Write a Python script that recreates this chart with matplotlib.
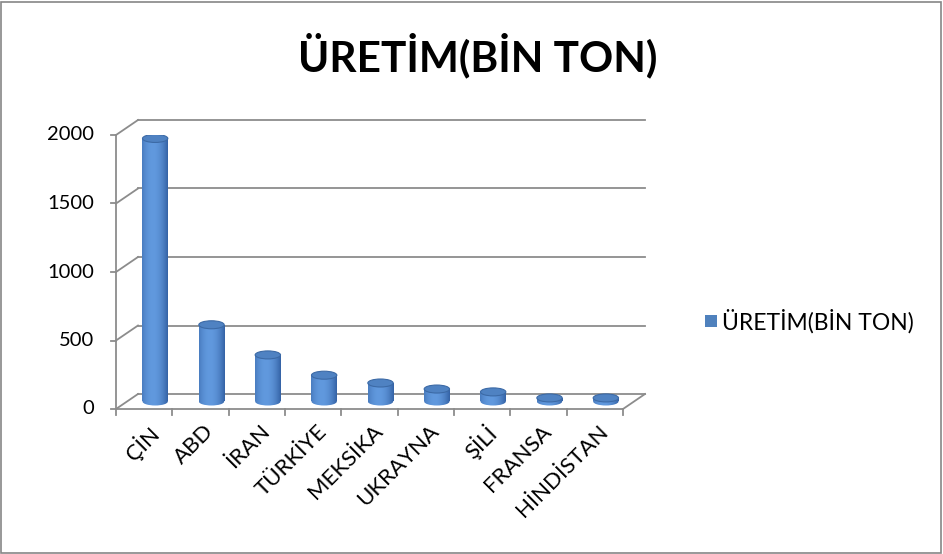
import numpy as np
import matplotlib
matplotlib.use("Agg")
import matplotlib.pyplot as plt
from matplotlib.patches import Rectangle, Ellipse
from matplotlib.lines import Line2D

# data
countries = ["ÇİN", "ABD", "İRAN", "TÜRKİYE", "MEKSİKA", "UKRAYNA", "ŞİLİ", "FRANSA", "HİNDİSTAN"]
production = [1920, 560, 340, 192, 135, 91, 70, 26, 26]
yticks = [0, 500, 1000, 1500, 2000]
title = "ÜRETİM(BİN TON)"
series_name = "ÜRETİM(BİN TON)"

plt.rcParams["font.family"] = ["Lato", "DejaVu Sans"]

W, H = 943, 554
fig = plt.figure(figsize=(W / 100, H / 100), dpi=100)

# front plane of the pseudo-3D box, in pixels
x0, x1 = 116, 623
ytop, ybot = 135, 409
ax = fig.add_axes([x0 / W, (H - ybot) / H, (x1 - x0) / W, (ybot - ytop) / H])
n = len(countries)
ax.axis("off")

# depth offset (pixels -> data units)
px_x = (x1 - x0) / n
px_y = (ybot - ytop) / 2000
DX = 22 / px_x
DY = 15 / px_y
grid_c = "#8c8c8c"


def line(xs, ys):
    ax.add_line(Line2D(xs, ys, color=grid_c, lw=1.3, clip_on=False))


# back wall grid + left diagonals
for v in yticks:
    line([DX, n + DX], [v + DY, v + DY])
    line([0, DX], [v, v + DY])
    line([-5 / px_x, 0], [v, v])  # tick
# front axis and floor
line([0, 0], [0, 2000])
line([0, n], [0, 0])
line([n, n + DX], [0, DY])
for i in range(n + 1):
    line([i, i], [0, -6 / px_y])

# cylinders with horizontal shading
bw = 0.45
eh = 8 / px_y
grad = np.linspace(0, 1, 64)
shade = 1 - (np.abs(grad - 0.42) * 1.7) ** 2
c_dark = np.array([0.20, 0.38, 0.64])
c_light = np.array([0.38, 0.60, 0.87])
img = c_dark[None, :] + shade[:, None] * (c_light - c_dark)[None, :]
img = img[None, :, :]

for i, v in enumerate(production):
    cx = i + 0.5 + DX / 2
    base = DY / 2
    left = cx - bw / 2
    body = Rectangle((left, base), bw, v, transform=ax.transData)
    bottom = Ellipse((cx, base), bw, eh, transform=ax.transData)
    for clip in (body, bottom):
        im = ax.imshow(img, extent=(left, left + bw, base - eh, base + v), aspect="auto",
                       interpolation="bilinear", zorder=3)
        im.set_clip_path(clip)
    ax.add_patch(Ellipse((cx, base + v), bw, eh, facecolor="#4f82c2",
                         edgecolor="#3c6aa6", lw=0.8, zorder=4))

ax.set_xlim(0, n)
ax.set_ylim(0, 2000)

# tick labels
for v in yticks:
    ax.text(-22 / px_x, v, str(v), ha="right", va="center", fontsize=14.5, clip_on=False)
for i, name in enumerate(countries):
    ax.text(i + 0.5 + 3 / px_x, -12 / px_y, name, rotation=45, rotation_mode="anchor",
            ha="right", va="top", fontsize=16, clip_on=False)

fig.text(478 / W, 1 - 55 / H, title, ha="center", va="center", fontsize=30.5, fontweight="bold")

# legend
fig.patches.append(Rectangle((705 / W, 1 - 327 / H), 12 / W, 12 / H, transform=fig.transFigure,
                             facecolor="#4f81bd", edgecolor="none"))
fig.text(722 / W, 1 - 321 / H, series_name, ha="left", va="center", fontsize=16.5)

# outer border
fig.patches.append(Rectangle((1 / W, 1 / H), (W - 3) / W, (H - 3) / H, transform=fig.transFigure,
                             fill=False, edgecolor="#868686", lw=1.2))

fig.savefig("out.png", dpi=100, facecolor="white")
